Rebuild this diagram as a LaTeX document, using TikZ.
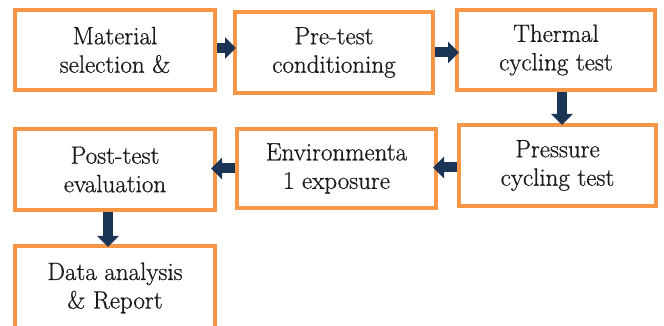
\documentclass[tikz,border=0pt]{standalone}
\usepackage{fontspec}
\newfontfamily\boxfont{Latin Modern Roman}[FakeBold=0.7]
\usetikzlibrary{arrows.meta}
\definecolor{boxorange}{HTML}{F79646}
\definecolor{arrownavy}{HTML}{1B3556}
\definecolor{txt}{HTML}{1A1A1A}
\tikzset{
  stepbox/.style={draw=boxorange, line width=4pt, fill=white, align=center,
    text=txt, font=\boxfont\fontsize{25}{28.5}\selectfont, inner sep=0pt},
  flowarrow/.style={draw=arrownavy, line width=10pt,
    -{Triangle[width=21pt,length=11pt]}}
}
\begin{document}
\begin{tikzpicture}[x=1pt,y=1pt]
\useasboundingbox (0,0) rectangle (664,326);
\clip (0,0) rectangle (664,326);
\node[stepbox, minimum width=200pt, minimum height=80pt] (b1) at (115,276) {Material\\selection \&};
\node[stepbox, minimum width=198pt, minimum height=81pt] (b2) at (334,273.5) {Pre-test\\conditioning};
\node[stepbox, minimum width=198pt, minimum height=80pt] (b3) at (556,276) {Thermal\\cycling test};
\node[stepbox, minimum width=197pt, minimum height=81pt] (b4) at (557.5,160.5) {Pressure\\cycling test};
\node[stepbox, minimum width=199pt, minimum height=79pt] (b5) at (336.5,157.5) {Environmenta\\1 exposure};
\node[stepbox, minimum width=200pt, minimum height=81pt] (b6) at (115,156.5) {Post-test\\evaluation};
\node[stepbox, minimum width=200pt, minimum height=84pt] (b7) at (115,38) {Data analysis\\\& Report};
\draw[flowarrow, shorten >=-3pt] ([yshift=2pt]b1.east) -- ([yshift=2pt]b1.east -| b2.west);
\draw[flowarrow, shorten >=-4pt] (b2.east) -- (b2.east -| b3.west);
\draw[flowarrow, shorten >=-2pt] ([xshift=6pt]b3.south) -- ([xshift=6pt]b3.south |- b4.north);
\draw[flowarrow, shorten >=-5pt] ([yshift=-2pt]b4.west) -- ([yshift=-2pt]b4.west -| b5.east);
\draw[flowarrow, shorten >=-6pt] (b5.west) -- (b5.west -| b6.east);
\draw[flowarrow, shorten >=-3pt] ([xshift=-7pt]b6.south) -- ([xshift=-7pt]b6.south |- b7.north);
\end{tikzpicture}
\end{document}
